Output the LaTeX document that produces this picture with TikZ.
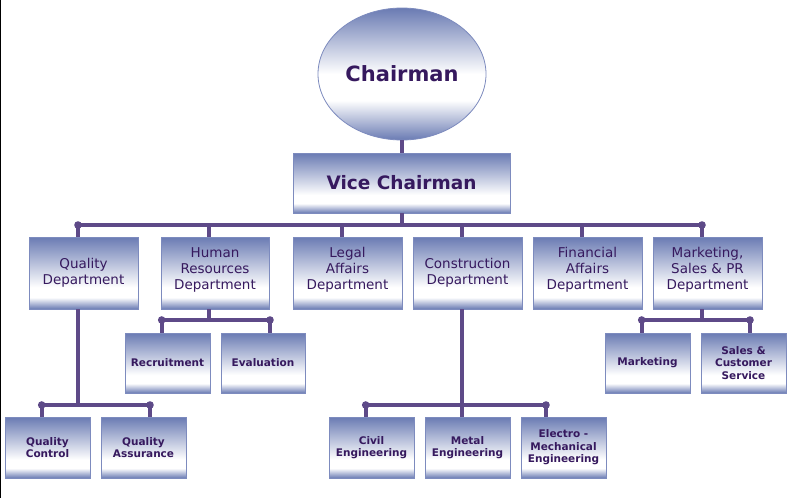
\documentclass[tikz,border=0pt]{standalone}
\usepackage{fontspec}
\setmainfont{DejaVu Sans}
\usetikzlibrary{shapes.geometric}
\definecolor{boxblue}{HTML}{6A7BB3}
\definecolor{boxedge}{HTML}{7D8BBE}
\definecolor{linec}{HTML}{5E4A88}
\definecolor{txt}{HTML}{36195E}
\pgfdeclareverticalshading{boxsh}{100bp}{color(0bp)=(boxblue); color(25bp)=(boxblue); color(33bp)=(white); color(40bp)=(white); color(75bp)=(boxblue); color(100bp)=(boxblue)}
\pgfdeclareverticalshading{ellsh}{100bp}{color(0bp)=(boxblue); color(25bp)=(boxblue); color(40bp)=(white); color(50bp)=(white); color(75bp)=(boxblue); color(100bp)=(boxblue)}
\tikzset{
  box/.style={draw=boxedge, line width=0.8pt, shading=boxsh, rectangle, align=center, text=txt, inner sep=0pt},
  lvtwo/.style={box, minimum width=109pt, minimum height=72pt, font=\fontsize{13.5}{16}\selectfont},
  lvthree/.style={box, minimum width=85pt, minimum height=60pt, font=\bfseries\fontsize{10.5}{12.5}\selectfont},
  conn/.style={draw=linec, line width=4pt},
  jdot/.style={fill=linec}
}
\begin{document}
\begin{tikzpicture}[x=1pt,y=-1pt]
\fill[white] (0,0) rectangle (792,498);
\useasboundingbox (0,0) rectangle (792,498);
\fill[black] (0,0) rectangle (1,498);

% nodes
\node[ellipse, draw=boxedge, line width=0.8pt, shading=ellsh, minimum width=168pt, minimum height=132pt, inner sep=0pt, text=txt, font=\bfseries\fontsize{21}{25}\selectfont] (chair) at (402,74) {Chairman};
\node[box, minimum width=217pt, minimum height=60pt, font=\bfseries\fontsize{18.5}{22}\selectfont] (vice) at (401.5,183) {Vice Chairman};

\node[lvtwo] (qd) at (83.5,273) {Quality\\Department};
\node[lvtwo, minimum width=108pt] (hr) at (215,273) {Human\\Resources\\Department\\[-7pt]};
\node[lvtwo] (la) at (347.5,273) {Legal\\Affairs\\Department\\[-7pt]};
\node[lvtwo] (cd) at (467.5,273) {Construction\\Department};
\node[lvtwo] (fa) at (587.5,273) {Financial\\Affairs\\Department\\[-7pt]};
\node[lvtwo] (mk) at (707.5,273) {Marketing,\\Sales \& PR\\Department\\[-7pt]};

\node[lvthree] (rec) at (167.5,363) {Recruitment};
\node[lvthree, minimum width=84pt] (eva) at (263,363) {Evaluation};
\node[lvthree] (mkt) at (647.5,363) {Marketing};
\node[lvthree] (scs) at (743.5,363) {Sales \&\\Customer\\Service};

\node[lvthree, minimum height=61pt] (qc) at (47.5,447.5) {Quality\\Control};
\node[lvthree, minimum height=61pt] (qa) at (143.5,447.5) {Quality\\Assurance};
\node[lvthree, minimum height=61pt] (civ) at (371.5,447.5) {Civil\\Engineering};
\node[lvthree, minimum height=61pt] (met) at (467.5,447.5) {Metal\\Engineering};
\node[lvthree, minimum height=61pt] (ele) at (563.5,447.5) {Electro -\\Mechanical\\Engineering};

% bus coordinates
\coordinate (busL) at (78,225);
\coordinate (busR) at (702,225);
\coordinate (dhr) at (209,225);
\coordinate (dla) at (341.7,225);
\coordinate (dcd) at (461.7,225);
\coordinate (dfa) at (581.7,225);
\coordinate (hrL) at (161.7,320);
\coordinate (hrR) at (270,320);
\coordinate (mkL) at (641.7,320);
\coordinate (mkR) at (750,320);
\coordinate (qL) at (41.7,405);
\coordinate (qR) at (150,405);
\coordinate (cL) at (365.7,405);
\coordinate (cR) at (546,405);

% connectors
\draw[conn] (chair.south -| vice.north) -- (vice.north);
\draw[conn] (vice.south) -- (vice.south |- busL);
\draw[conn] (busL) -- (busR);
\draw[conn] (busL) -- (busL |- qd.north);
\draw[conn] (dhr) -- (dhr |- hr.north);
\draw[conn] (dla) -- (dla |- la.north);
\draw[conn] (dcd) -- (dcd |- cd.north);
\draw[conn] (dfa) -- (dfa |- fa.north);
\draw[conn] (busR) -- (busR |- mk.north);

\draw[conn] (dhr |- hr.south) -- (dhr |- hrL);
\draw[conn] (hrL) -- (hrR);
\draw[conn] (hrL) -- (hrL |- rec.north);
\draw[conn] (hrR) -- (hrR |- eva.north);

\draw[conn] (busR |- mk.south) -- (busR |- mkL);
\draw[conn] (mkL) -- (mkR);
\draw[conn] (mkL) -- (mkL |- mkt.north);
\draw[conn] (mkR) -- (mkR |- scs.north);

\draw[conn] (busL |- qd.south) -- (busL |- qL);
\draw[conn] (qL) -- (qR);
\draw[conn] (qL) -- (qL |- qc.north);
\draw[conn] (qR) -- (qR |- qa.north);

\draw[conn] (dcd |- cd.south) -- (dcd |- met.north);
\draw[conn] (cL) -- (cR);
\draw[conn] (cL) -- (cL |- civ.north);
\draw[conn] (cR) -- (cR |- ele.north);

% junction dots
\foreach \p in {busL,busR,hrL,hrR,mkL,mkR,qL,qR,cL,cR}
  \fill[jdot] (\p) circle[radius=3.8pt];
\end{tikzpicture}
\end{document}
